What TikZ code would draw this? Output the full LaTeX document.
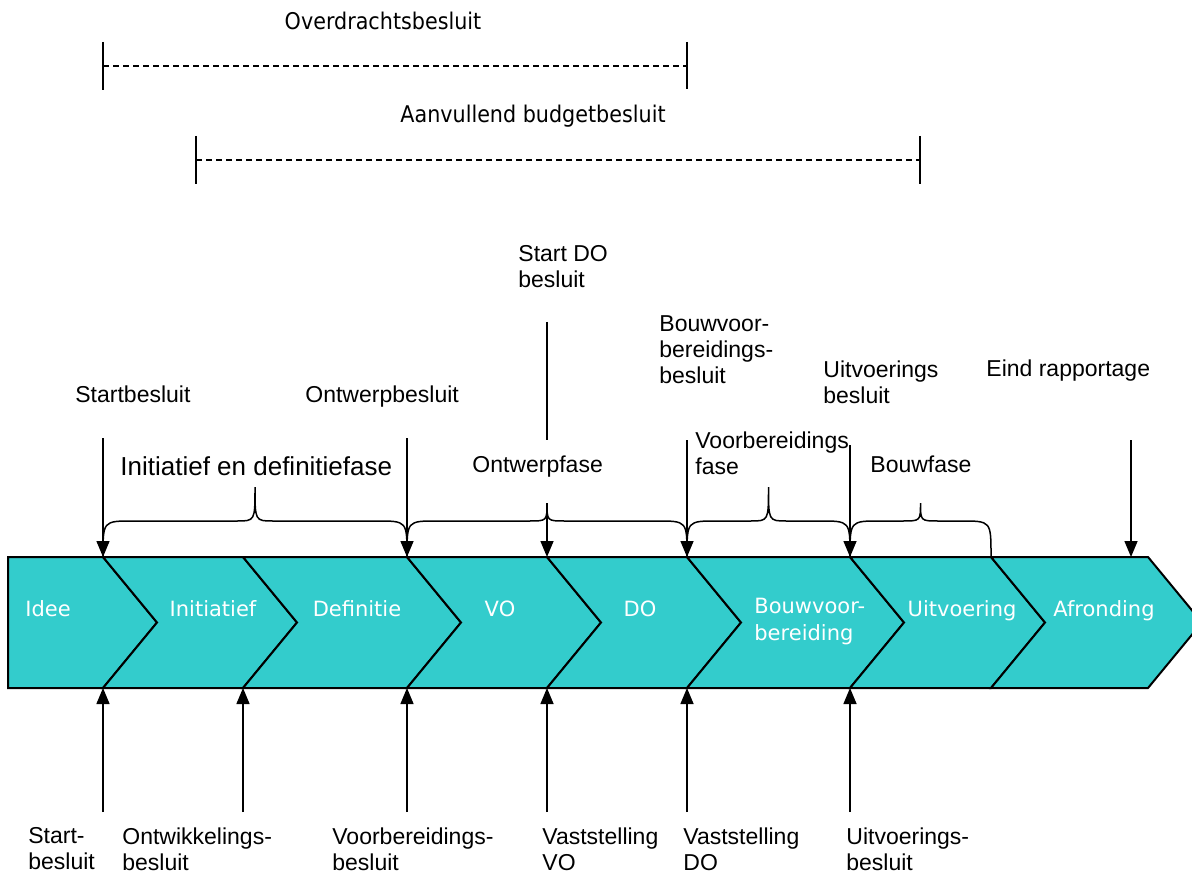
\documentclass[tikz,border=0pt]{standalone}
\usepackage{fontspec}
\setmainfont{Liberation Sans}
\newfontfamily\fasefont{DejaVu Sans}
\newfontfamily\spanfont[FakeStretch=0.9]{DejaVu Sans}
\usetikzlibrary{arrows.meta}
\definecolor{faseblauw}{RGB}{51,204,204}

\begin{document}
\begin{tikzpicture}[x=0.5pt,y=-0.5pt,
  pijl/.style={-{Triangle[length=8pt,width=6.5pt]},line width=0.75pt},
  tekst/.style={anchor=base west,inner sep=0pt,align=left,font=\fontsize{11.5}{13}\selectfont},
  fase/.style={fill=faseblauw,draw=black,line width=1pt},
  fasetekst/.style={anchor=base,inner sep=0pt,text=white,font=\fasefont\fontsize{10.5}{13.5}\selectfont},
  spantekst/.style={anchor=base,inner sep=0pt,font=\spanfont\fontsize{11.5}{13}\selectfont},
  span/.style={dash pattern=on 3pt off 2pt,line width=0.75pt},
  accolade/.style={line width=0.75pt}]
  \useasboundingbox (0,0) rectangle (1192,876);
  \clip (0,0) rectangle (1192,876);
  % punten op de band
  \foreach \x [count=\i] in {103,243,407,547,687,850,991,1148} {
    \coordinate (top\i) at (\x,557);
    \coordinate (bot\i) at (\x,688);
    \coordinate (voet\i) at (\x,812);
  }
  % fasen (pijlvormen)
  \draw[fase] (8,557) -- (103,557) -- (157,622.5) -- (103,688) -- (8,688) -- cycle;
  \foreach \a/\b in {103/243,243/407,407/547,547/687,687/850,850/991,991/1148}
    \draw[fase] (\a,557) -- (\b,557) -- (\b+54,622.5) -- (\b,688) -- (\a,688) -- (\a+54,622.5) -- cycle;
  \node[fasetekst] (idee) at (48,616) {Idee};
  \node[fasetekst] (initiatief) at (213,616) {Initiatief};
  \node[fasetekst] (definitie) at (357,616) {Definitie};
  \node[fasetekst] (vo) at (500,616) {VO};
  \node[fasetekst] (do) at (640,616) {DO};
  \node[fasetekst,anchor=north west,align=left] (bouwvoorb) at (754,598) {Bouwvoor-\\bereiding};
  \node[fasetekst] (uitvoering) at (962,616) {Uitvoering};
  \node[fasetekst] (afronding) at (1104,616) {Afronding};
  % overdracht en budget
  \coordinate (ov1) at (103,66);
  \coordinate (ov2) at (687,66);
  \draw[line width=0.75pt] (ov1) ++(0,-24) -- ++(0,48);
  \draw[line width=0.75pt] (ov2) ++(0,-24) -- ++(0,47);
  \draw[span] (ov1) -- (ov2);
  \node[spantekst] (overdracht) at (383,30) {Overdrachtsbesluit};
  \coordinate (ab1) at (196,160);
  \coordinate (ab2) at (920,160);
  \draw[line width=0.75pt] (ab1) ++(0,-24) -- ++(0,48);
  \draw[line width=0.75pt] (ab2) ++(0,-24) -- ++(0,48);
  \draw[span] (ab1) -- (ab2);
  \node[spantekst] (aanvullend) at (533,123) {Aanvullend budgetbesluit};
  % besluiten boven
  \node[tekst] (startb) at (75,402) {Startbesluit};
  \node[tekst] (ontwerpb) at (305,402) {Ontwerpbesluit};
  \node[tekst,anchor=north west] (startdo) at (518,245) {Start DO\\besluit};
  \node[tekst,anchor=north west] (bouwvb) at (659,315) {Bouwvoor-\\bereidings-\\besluit};
  \node[tekst,anchor=north west] (uitvb) at (823,360) {Uitvoerings\\besluit};
  \node[tekst] (eind) at (986,377) {Eind rapportage};
  \foreach \i/\y in {1/438,3/438,5/440,6/445} {
    \coordinate (kop\i) at (top\i |- 0,\y);
    \draw[pijl] (kop\i) -- (top\i);
  }
  \coordinate (eindkop) at (1131,440);
  \coordinate (eindpunt) at (1131,557);
  \draw[pijl] (eindkop) -- (eindpunt);
  \coordinate (sdo1) at (547,322);
  \coordinate (sdo2) at (547,440);
  \draw[line width=0.75pt] (sdo1) -- (sdo2);
  % accolades
  \foreach \a/\b/\t in {103/407/487,407/687/503,687/850/487,850/991/503}
    \draw[accolade] (\a,556) .. controls (\a,521) .. (\a+30,521)
      -- ({(\a+\b)/2-18},521) .. controls ({(\a+\b)/2},521) .. ({(\a+\b)/2},\t)
      .. controls ({(\a+\b)/2},521) .. ({(\a+\b)/2+18},521)
      -- (\b-30,521) .. controls (\b,521) .. (\b,556);
  \coordinate (tip2) at (547,503);
  \draw[pijl] (tip2) -- (top4);
  % fasenamen
  \node[tekst,font=\fontsize{13}{15}\selectfont] (initdef) at (120,475) {Initiatief en definitiefase};
  \node[tekst] (ontwerpf) at (472,472) {Ontwerpfase};
  \node[tekst,anchor=north west] (voorbf) at (695,431) {Voorbereidings\\fase};
  \node[tekst] (bouwf) at (870,472) {Bouwfase};
  % besluiten onder
  \foreach \i in {1,...,6}
    \draw[pijl] (voet\i) -- (bot\i);
  \node[tekst,anchor=north west] (startb2) at (28,827) {Start-\\besluit};
  \node[tekst,anchor=north west] (ontwb) at (122,827) {Ontwikkelings-\\besluit};
  \node[tekst,anchor=north west] (voorbb) at (332,827) {Voorbereidings-\\besluit};
  \node[tekst,anchor=north west] (vastvo) at (542,827) {Vaststelling\\VO};
  \node[tekst,anchor=north west] (vastdo) at (683,827) {Vaststelling\\DO};
  \node[tekst,anchor=north west] (uitvb2) at (846,827) {Uitvoerings-\\besluit};
\end{tikzpicture}
\end{document}
